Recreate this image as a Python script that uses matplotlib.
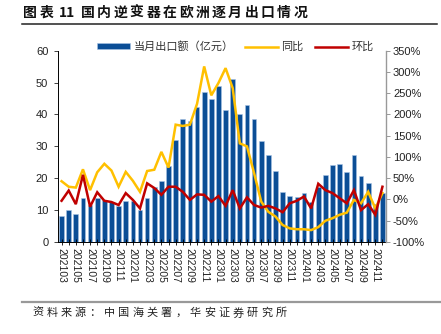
import matplotlib
matplotlib.use('Agg')
import matplotlib.pyplot as plt
import numpy as np
from matplotlib.patches import Patch
from matplotlib.lines import Line2D

plt.rcParams['font.family'] = ['Liberation Sans', 'Noto Sans CJK SC']

# monthly exports to Europe, 2021-03 .. 2024-12
months = ['%d%02d' % (y, m) for y in range(2021, 2025) for m in range(1, 13)][2:]
export = [8.2, 9.9, 8.8, 13.9, 11.5, 13.7, 13.3, 12.5, 11.2, 12.9,
          12.8, 10.0, 13.9, 17.4, 19.0, 23.8, 32.0, 38.5, 37.8, 42.4,
          47.0, 44.9, 49.0, 41.4, 51.0, 40.1, 42.9, 38.5, 31.7, 27.3,
          22.3, 15.7, 14.4, 14.1, 15.3, 12.6, 17.3, 21.0, 24.0, 24.6,
          21.9, 27.3, 20.7, 18.6, 12.0, 15.5]
yoy = [43, 30, 28, 71, 22, 64, 84, 68, 30, 65,
       44, 18, 67, 70, 112, 75, 176, 173, 176, 225,
       313, 245, 274, 309, 262, 132, 125, 62, -5, -29,
       -40, -60, -68, -70, -70, -72, -65, -50, -44, -36,
       -31, -1, -9, 18, -21, 15]
mom = [-3, 21, -11, 58, -17, 17, -3, -6, -13, 15,
       -1, -21, 38, 27, 11, 30, 30, 18, -1, 12,
       11, -5, 8, -15, 22, -21, 5, -13, -19, -15,
       -21, -30, -9, -3, 7, -21, 37, 22, 15, 3,
       -9, 22, -25, -11, -36, 30]

BLUE = '#0B4E96'
GOLD = '#FFC000'
RED = '#C00000'

fig = plt.figure(figsize=(4.41, 3.34), dpi=100)
W, H = 441.0, 334.0
ax = fig.add_axes([58 / W, 1 - 242 / H, 328 / W, 191.3 / H])
ax2 = ax.twinx()

x = np.arange(len(months))
ax.bar(x, export, width=0.66, color=BLUE, edgecolor='#A9C4E4', linewidth=0.4)
ax2.plot(x, yoy, color=GOLD, lw=1.8, solid_joinstyle='miter')
ax2.plot(x, mom, color=RED, lw=1.8, solid_joinstyle='miter')

ax.set_xlim(-0.5, len(months) - 0.5)
ax.set_ylim(0, 60)
ax.set_yticks(range(0, 61, 10))
ax2.set_ylim(-100, 350)
ax2.set_yticks(range(-100, 351, 50))
ax2.set_yticklabels(['%d%%' % v for v in range(-100, 351, 50)])

ax.set_xticks(x[::2])
ax.set_xticklabels(months[::2], rotation=-90, fontsize=7.5, color='#222222')
ax.set_xticks(x, minor=True)
ax.tick_params(axis='x', which='both', direction='inout', length=4, width=0.6, pad=2)
ax.tick_params(axis='y', labelsize=8, length=3, width=0.6, colors='#222222', pad=4)
ax2.tick_params(axis='y', labelsize=8, length=3, width=0.6, colors='#222222', pad=2)
ax2.tick_params(axis='y', color='#888888')

for a in (ax, ax2):
    a.spines['top'].set_visible(False)
ax.spines['right'].set_visible(False)
ax2.spines['left'].set_visible(False)
ax2.spines['bottom'].set_visible(False)
ax.spines['left'].set_linewidth(0.7)
ax.spines['bottom'].set_linewidth(0.7)
ax2.spines['right'].set_color('#999999')
ax2.spines['right'].set_linewidth(1.0)

handles = [Patch(facecolor=BLUE, edgecolor='#A9C4E4', linewidth=0.4),
           Line2D([], [], color=GOLD, lw=1.8),
           Line2D([], [], color=RED, lw=1.8)]
ax.legend(handles, ['当月出口额（亿元）', '同比', '环比'], loc='center',
          bbox_to_anchor=(0.54, 1.02), ncol=3, frameon=False, fontsize=8,
          handlelength=3.0, handleheight=0.5, columnspacing=1.0, handletextpad=0.3,
          labelcolor='#333333')

renderer = fig.canvas.get_renderer()


def spaced_text(x0, y0, tokens, gap, **kw):
    # place tokens one by one so the line gets extra letter spacing
    cx = x0
    for tok in tokens:
        t = fig.text(cx / W, 1 - y0 / H, tok, va='center', ha='left',
                     family=['Noto Sans CJK SC'], **kw)
        cx += t.get_window_extent(renderer).width + (gap if tok.strip() else 0)


title = ['图', '表', ' ', '11', ' '] + list('国内逆变器在欧洲逐月出口情况')
spaced_text(23, 13, title, 2.5, fontsize=10, fontweight='bold', color='#111111')

fig.add_artist(Line2D([22 / W, 437 / W], [1 - 24 / H, 1 - 24 / H], color='#222222', lw=1.1))
fig.add_artist(Line2D([22 / W, 441 / W], [1 - 301.5 / H, 1 - 301.5 / H], color='#999999', lw=1.6))
spaced_text(32, 313, list('资料来源：中国海关署，华安证券研究所'), 3.2,
            fontsize=8, color='#222222')

fig.savefig('out.png', dpi=100)
